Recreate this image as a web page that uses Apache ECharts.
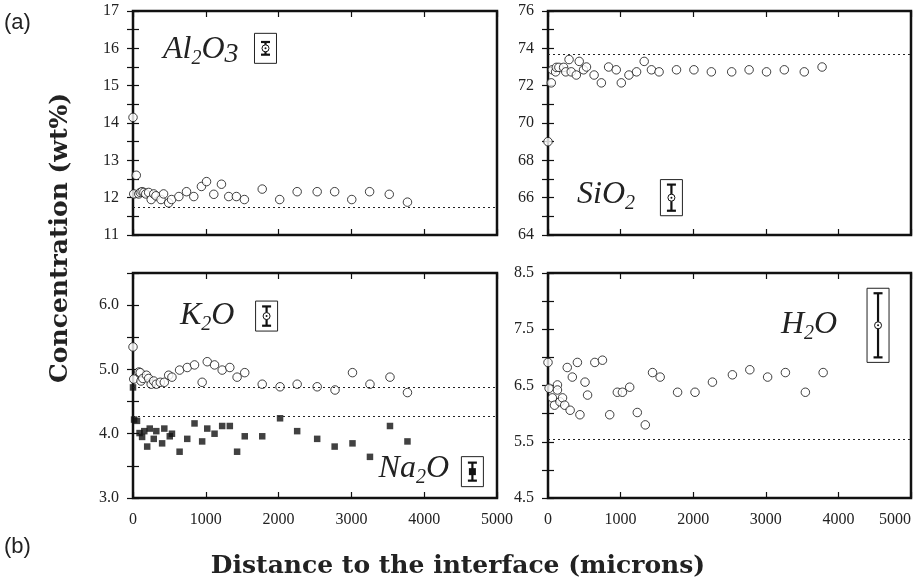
<!DOCTYPE html>
<html>
<head>
<meta charset="utf-8">
<script src="https://cdn.jsdelivr.net/npm/echarts@6.0.0/dist/echarts.min.js"></script>
<style>
html, body { margin: 0; padding: 0; background: #fff; }
#chart { width: 917px; height: 581px; }
</style>
</head>
<body>
<div id="chart"></div>
<script>
// distance to the interface (microns) and concentration (wt%)
const al2o3X = [0, 10, 45, 80, 100, 125, 150, 175, 215, 250, 285, 315, 385, 420, 490, 530, 630, 735, 835, 940, 1010, 1110, 1215, 1315, 1420, 1530, 1775, 2015, 2255, 2530, 2770, 3005, 3250, 3520, 3770]
const al2o3Y = [14.15, 12.1, 12.6, 12.1, 12.14, 12.16, 12.14, 12.1, 12.14, 11.95, 12.1, 12.05, 11.95, 12.1, 11.86, 11.95, 12.03, 12.16, 12.03, 12.3, 12.43, 12.09, 12.36, 12.03, 12.03, 11.95, 12.23, 11.95, 12.16, 12.16, 12.16, 11.95, 12.16, 12.09, 11.88]

const sio2X = [0, 45, 60, 105, 115, 150, 215, 245, 290, 320, 390, 430, 490, 530, 635, 735, 835, 940, 1010, 1115, 1220, 1325, 1425, 1530, 1770, 2010, 2250, 2530, 2770, 3010, 3255, 3530, 3775]
const sio2Y = [69.0, 72.15, 72.85, 72.74, 72.98, 72.98, 72.98, 72.74, 73.4, 72.74, 72.57, 73.3, 72.85, 73.0, 72.57, 72.15, 73.0, 72.85, 72.15, 72.57, 72.74, 73.3, 72.85, 72.74, 72.85, 72.85, 72.74, 72.74, 72.85, 72.74, 72.85, 72.74, 73.0]

const k2oX = [0, 10, 80, 100, 110, 135, 185, 215, 250, 285, 320, 375, 430, 490, 535, 640, 745, 845, 950, 1020, 1120, 1225, 1330, 1430, 1535, 1775, 2020, 2255, 2530, 2775, 3015, 3255, 3530, 3770]
const k2oY = [5.35, 4.85, 4.96, 4.95, 4.82, 4.86, 4.91, 4.86, 4.77, 4.82, 4.77, 4.8, 4.8, 4.91, 4.88, 4.99, 5.03, 5.07, 4.8, 5.12, 5.07, 4.99, 5.03, 4.88, 4.95, 4.77, 4.73, 4.77, 4.73, 4.68, 4.95, 4.77, 4.88, 4.64]

const na2oX = [0, 15, 55, 90, 125, 155, 195, 230, 285, 320, 400, 430, 505, 535, 640, 745, 845, 950, 1020, 1120, 1225, 1330, 1430, 1535, 1775, 2020, 2255, 2530, 2770, 3015, 3255, 3530, 3770]
const na2oY = [4.72, 4.22, 4.2, 4.01, 3.95, 4.04, 3.8, 4.08, 3.92, 4.04, 3.85, 4.08, 3.96, 4.0, 3.72, 3.92, 4.16, 3.88, 4.08, 4.0, 4.12, 4.12, 3.72, 3.96, 3.96, 4.24, 4.04, 3.92, 3.8, 3.85, 3.64, 4.12, 3.88]

const h2oX = [0, 15, 60, 90, 130, 130, 165, 200, 230, 265, 305, 335, 405, 440, 510, 545, 645, 750, 850, 955, 1025, 1125, 1230, 1340, 1440, 1545, 1785, 2025, 2265, 2540, 2780, 3025, 3270, 3545, 3790]
const h2oY = [6.91, 6.45, 6.28, 6.15, 6.51, 6.42, 6.21, 6.28, 6.15, 6.82, 6.06, 6.65, 6.91, 5.98, 6.56, 6.33, 6.91, 6.95, 5.98, 6.38, 6.38, 6.47, 6.02, 5.8, 6.73, 6.65, 6.38, 6.38, 6.56, 6.69, 6.78, 6.65, 6.73, 6.38, 6.73]

// far-field (initial) compositions, dotted lines
const farField = { al2o3: 11.75, sio2: 73.7, k2o: 4.72, na2o: 4.27, h2o: 5.55 }

// analytical error bars shown in the small boxes: [x, y, +/-]
const errAl2o3 = [[1820, 16.0, 0.17]]
const errSio2 = [[1700, 66.0, 0.7]]
const errK2o = [[1835, 5.83, 0.15]]
const errNa2o = [[4662, 3.41, 0.14]]
const errH2o = [[4546, 7.57, 0.57]]

const xTicks = ['0', '1000', '2000', '3000', '4000', '5000']

const chart = echarts.init(document.getElementById('chart'))
const serif = 'Liberation Serif'

function pairs(xs, ys) {
  return xs.map((x, i) => [x, ys[i]])
}

const grids = [
  {left: 133, top: 11, width: 364, height: 224},
  {left: 548, top: 11, width: 363, height: 224},
  {left: 133, top: 273, width: 364, height: 225},
  {left: 548, top: 273, width: 363, height: 225}
].map(g => Object.assign(g, {show: true, borderColor: '#111', borderWidth: 2.5, backgroundColor: 'transparent'}))

const tick = {inside: true, length: 6, lineStyle: {color: '#111', width: 1.2}}

function xAxisPair(gi, labels, alignMax) {
  const base = {
    type: 'value', gridIndex: gi, min: 0, max: 5000, interval: 1000,
    splitLine: {show: false}, axisLine: {show: false}, axisTick: tick
  }
  return [
    Object.assign({}, base, {
      position: 'bottom',
      axisLabel: {
        show: labels, margin: 14, fontFamily: serif, fontSize: 16, color: '#222',
        alignMaxLabel: alignMax,
        formatter: v => xTicks[Math.round(v / 1000)]
      }
    }),
    Object.assign({}, base, {position: 'top', axisLabel: {show: false}})
  ]
}

function yAxisPair(gi, min, max, step, labelStep, digits) {
  const base = {
    type: 'value', gridIndex: gi, min: min, max: max, interval: step,
    splitLine: {show: false}, axisLine: {show: false}, axisTick: tick
  }
  return [
    Object.assign({}, base, {
      position: 'left',
      axisLabel: {
        margin: 14, fontFamily: serif, fontSize: 16, color: '#222',
        formatter: v => {
          const k = (v - min) / labelStep
          return Math.abs(k - Math.round(k)) < 1e-6 ? v.toFixed(digits) : ''
        }
      }
    }),
    Object.assign({}, base, {position: 'right', axisLabel: {show: false}})
  ]
}

const xAxis = [].concat(xAxisPair(0, false), xAxisPair(1, false), xAxisPair(2, true, 'center'), xAxisPair(3, true, 'right'))
const yAxis = [].concat(
  yAxisPair(0, 11, 17, 0.5, 1, 0),
  yAxisPair(1, 64, 76, 1, 2, 0),
  yAxisPair(2, 3, 6.5, 0.5, 1, 1),
  yAxisPair(3, 4.5, 8.5, 0.5, 1, 1)
)

function dotted(v) {
  return {
    silent: true, symbol: ['none', 'none'], animation: false,
    label: {show: false},
    lineStyle: {color: '#222', width: 1.2, type: [2, 3]},
    data: [{yAxis: v}]
  }
}

function points(name, ax, data, ref, filled) {
  return {
    name: name, type: 'scatter', xAxisIndex: ax, yAxisIndex: ax,
    data: data,
    symbol: filled ? 'rect' : 'circle',
    symbolSize: filled ? 6.5 : 8.5,
    itemStyle: filled ? {color: '#111'} : {color: '#fff', borderColor: '#111', borderWidth: 1},
    markLine: dotted(ref),
    z: 3
  }
}

function errorBox(ax, data, filled) {
  return {
    type: 'custom', xAxisIndex: ax, yAxisIndex: ax, data: data, z: 4,
    encode: {x: 0, y: 1},
    renderItem: (params, api) => {
      const c = api.coord([api.value(0), api.value(1)])
      const hi = api.coord([api.value(0), api.value(1) + api.value(2)])
      const lo = api.coord([api.value(0), api.value(1) - api.value(2)])
      const half = Math.max(c[1] - hi[1] + 5, 15)
      const ink = {stroke: '#111', lineWidth: 2.2}
      const kids = [
        {type: 'rect', shape: {x: c[0] - 11, y: c[1] - half, width: 22, height: half * 2}, style: {fill: '#fff', stroke: '#222', lineWidth: 1}},
        {type: 'line', shape: {x1: c[0], y1: hi[1], x2: c[0], y2: lo[1]}, style: ink},
        {type: 'line', shape: {x1: c[0] - 4.5, y1: hi[1], x2: c[0] + 4.5, y2: hi[1]}, style: ink},
        {type: 'line', shape: {x1: c[0] - 4.5, y1: lo[1], x2: c[0] + 4.5, y2: lo[1]}, style: ink}
      ]
      if (filled) {
        kids.push({type: 'rect', shape: {x: c[0] - 3.5, y: c[1] - 3.5, width: 7, height: 7}, style: {fill: '#111'}})
      } else {
        kids.push({type: 'circle', shape: {cx: c[0], cy: c[1], r: 3.5}, style: {fill: '#fff', stroke: '#111', lineWidth: 1}})
        kids.push({type: 'circle', shape: {cx: c[0], cy: c[1], r: 1}, style: {fill: '#111'}})
      }
      return {type: 'group', children: kids}
    }
  }
}

function formula(text, x, y, align) {
  return {
    type: 'text', x: x, y: y, z: 10,
    style: {
      text: text, align: align || 'left', verticalAlign: 'middle',
      rich: {
        m: {fontFamily: serif, fontStyle: 'italic', fontSize: 32, lineHeight: 38, fill: '#222'},
        s: {fontFamily: serif, fontStyle: 'italic', fontSize: 20, lineHeight: 20, verticalAlign: 'bottom', fill: '#222'},
        t: {fontFamily: serif, fontStyle: 'italic', fontSize: 28, lineHeight: 31, verticalAlign: 'bottom', fill: '#222'}
      }
    }
  }
}

const option = {
  animation: false,
  backgroundColor: '#fff',
  grid: grids,
  xAxis: xAxis,
  yAxis: yAxis,
  series: [
    points('Al2O3', 0, pairs(al2o3X, al2o3Y), farField.al2o3),
    points('SiO2', 2, pairs(sio2X, sio2Y), farField.sio2),
    points('K2O', 4, pairs(k2oX, k2oY), farField.k2o),
    points('Na2O', 4, pairs(na2oX, na2oY), farField.na2o, true),
    points('H2O', 6, pairs(h2oX, h2oY), farField.h2o),
    errorBox(0, errAl2o3),
    errorBox(2, errSio2),
    errorBox(4, errK2o),
    errorBox(4, errNa2o, true),
    errorBox(6, errH2o)
  ],
  graphic: [
    formula('{m|Al}{s|2}{m|O}{t|3}', 163, 50),
    formula('{m|SiO}{s|2}', 577, 195),
    formula('{m|K}{s|2}{m|O}', 180, 316),
    formula('{m|Na}{s|2}{m|O}', 449, 469, 'right'),
    formula('{m|H}{s|2}{m|O}', 781, 325),
    {type: 'text', x: 4, y: 23, style: {text: '(a)', font: '22px "Liberation Sans"', fill: '#222', verticalAlign: 'middle'}},
    {type: 'text', x: 4, y: 547, style: {text: '(b)', font: '22px "Liberation Sans"', fill: '#222', verticalAlign: 'middle'}},
    {
      type: 'text', x: 60, y: 238, rotation: Math.PI / 2,
      style: {text: 'Concentration (wt%)', font: 'bold 25px "DejaVu Serif"', fill: '#222', align: 'center', verticalAlign: 'middle'}
    },
    {
      type: 'text', x: 458, y: 566,
      style: {text: 'Distance to the interface (microns)', font: 'bold 25px "DejaVu Serif"', fill: '#222', align: 'center', verticalAlign: 'middle'}
    }
  ]
}

chart.setOption(option)
</script>
</body>
</html>
